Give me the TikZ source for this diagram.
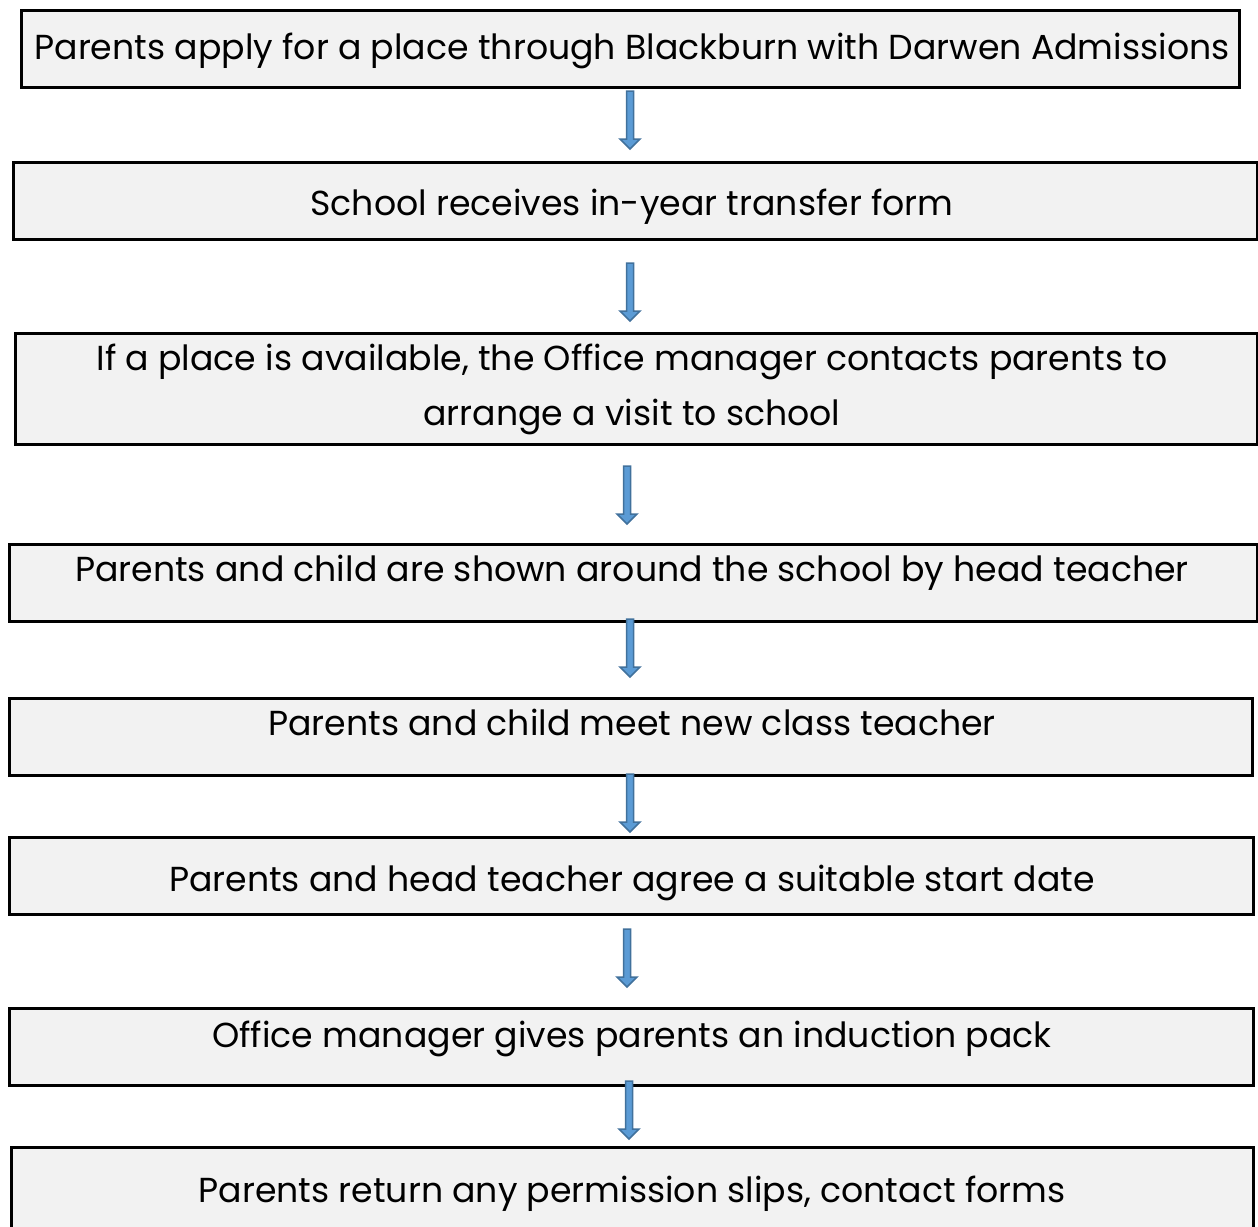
\documentclass[tikz,border=0pt]{standalone}
\usepackage{fontspec}
\setmainfont{Poppins}
\definecolor{boxfill}{HTML}{F2F2F2}
\definecolor{arrowfill}{HTML}{5B9BD5}
\definecolor{arrowedge}{HTML}{41719C}
\begin{document}
\begin{tikzpicture}[x=1pt,y=-1pt,
  stepbox/.style={draw=black, line width=2.5pt, fill=boxfill, inner sep=0pt, anchor=north west},
  steptext/.style={inner sep=0pt, anchor=base, font=\fontsize{34.7}{40}\selectfont},
  downarrow/.pic={\draw[line width=1.5pt, draw=arrowedge, fill=arrowfill, line join=miter]
     (-3.5,0) -- (3.5,0) -- (3.5,48) -- (10,48) -- (0,58) -- (-10,48) -- (-3.5,48) -- cycle;}]
\useasboundingbox (0,0) rectangle (1258,1226);
\clip (0,0) rectangle (1258,1226);
\fill[white] (0,0) rectangle (1258,1226);
% boxes
\node[stepbox, minimum width=1218pt, minimum height=77pt] (b1) at (20,9) {};
\node[stepbox, minimum width=1244pt, minimum height=77pt] (b2) at (12,161) {};
\node[stepbox, minimum width=1242pt, minimum height=111pt] (b3) at (14,332) {};
\node[stepbox, minimum width=1248pt, minimum height=77pt] (b4) at (8,543) {};
\node[stepbox, minimum width=1243pt, minimum height=77pt] (b5) at (8,697) {};
\node[stepbox, minimum width=1244pt, minimum height=77pt] (b6) at (8,836) {};
\node[stepbox, minimum width=1244pt, minimum height=77pt] (b7) at (8,1007) {};
\node[stepbox, minimum width=1242pt, minimum height=100pt] (b8) at (10,1146) {};
% texts
\node[steptext] (t1) at (632,59) {Parents apply for a place through Blackburn with Darwen Admissions};
\node[steptext] (t2) at (632,215) {School receives in-year transfer form};
\node[steptext] (t3a) at (632,370) {If a place is available, the Office manager contacts parents to};
\node[steptext] (t3b) at (632,425) {arrange a visit to school};
\node[steptext] (t4) at (632,581) {Parents and child are shown around the school by head teacher};
\node[steptext] (t5) at (632,735) {Parents and child meet new class teacher};
\node[steptext] (t6) at (632,891) {Parents and head teacher agree a suitable start date};
\node[steptext] (t7) at (632,1047) {Office manager gives parents an induction pack};
\node[steptext] (t8) at (632,1202) {Parents return any permission slips, contact forms};
% arrows
\coordinate (a1) at (630,91);
\coordinate (a2) at (630,263);
\coordinate (a3) at (627,466);
\coordinate (a4) at (630,619);
\coordinate (a5) at (630,774);
\coordinate (a6) at (627,929);
\coordinate (a7) at (629,1081);
\foreach \a in {a1,a2,a3,a4,a5,a6,a7} {\pic at (\a) {downarrow};}
\end{tikzpicture}
\end{document}
